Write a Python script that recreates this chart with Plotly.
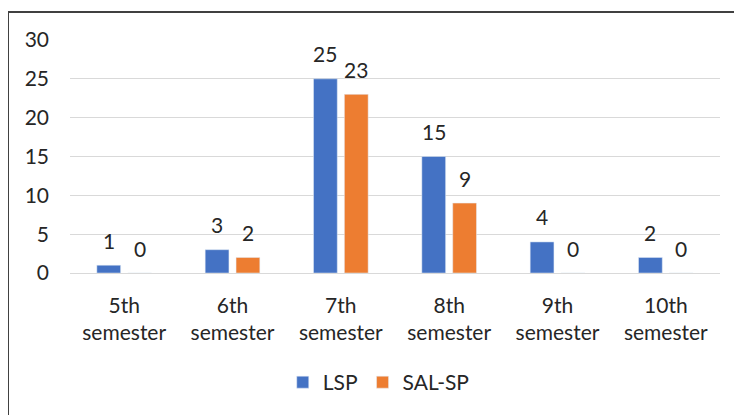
import plotly.graph_objects as go

categories = ["5th<br>semester", "6th<br>semester", "7th<br>semester",
              "8th<br>semester", "9th<br>semester", "10th<br>semester"]
lsp = [1, 3, 25, 15, 4, 2]
salsp = [0, 2, 23, 9, 0, 0]
y_ticks = [0, 5, 10, 15, 20, 25, 30]

FONT = "Lato"
TXT = "#262626"
FS = 21

fig = go.Figure()
fig.add_trace(go.Bar(x=categories, y=lsp, name="LSP", marker_color="#4472C4"))
fig.add_trace(go.Bar(x=categories, y=salsp, name="SAL-SP", marker_color="#ED7D31"))

annotations = []
for series, dx in ((lsp, -15.5), (salsp, 15.5)):
    for c, v in zip(categories, series):
        annotations.append(dict(x=c, y=v, xref="x", yref="y", text=str(v),
                                showarrow=False, xshift=dx, yshift=25,
                                xanchor="center", yanchor="middle",
                                font=dict(size=FS, family=FONT, color=TXT)))

fig.update_layout(
    width=734, height=407,
    margin=dict(l=62, r=22, t=32, b=142),
    paper_bgcolor="white", plot_bgcolor="white",
    barmode="group", bargap=0.43, bargroupgap=0.23,
    font=dict(family=FONT, size=FS, color=TXT),
    showlegend=True,
    legend=dict(orientation="h", x=0.475, xanchor="center", y=-0.47, yanchor="middle",
                font=dict(size=FS, family=FONT, color=TXT), itemwidth=30,
                traceorder="normal"),
    annotations=annotations,
    shapes=[dict(type="rect", xref="paper", yref="paper",
                 x0=-0.0954, x1=1.06, y0=-0.65, y1=1.1202,
                 line=dict(color="#404040", width=2), layer="below")],
)
fig.update_yaxes(range=[0, 30], tickvals=y_ticks, showgrid=True, gridcolor="#D9D9D9",
                 gridwidth=1, zeroline=True, zerolinecolor="#D9D9D9", zerolinewidth=1,
                 ticks="", ticklabelstandoff=20, tickfont=dict(size=FS, family=FONT, color=TXT))
fig.update_xaxes(showline=False, ticks="", ticklabelstandoff=18,
                 tickfont=dict(size=FS, family=FONT, color=TXT))

fig.write_html("out.html")
